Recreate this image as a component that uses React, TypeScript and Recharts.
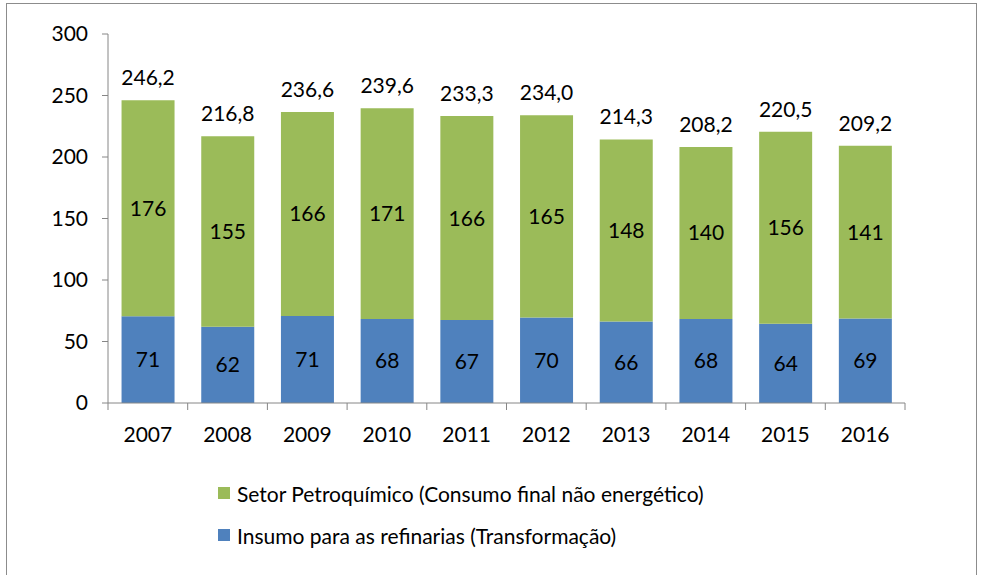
import { Bar, BarChart, LabelList, XAxis, YAxis } from "recharts";

const years = ["2007", "2008", "2009", "2010", "2011", "2012", "2013", "2014", "2015", "2016"];
const insumo = [70.6, 62.0, 70.8, 68.3, 67.4, 69.5, 66.2, 68.3, 64.4, 68.6];
const petroquimico = [175.6, 154.8, 165.8, 171.3, 165.9, 164.5, 148.1, 139.9, 156.1, 140.6];
const totals = [246.2, 216.8, 236.6, 239.6, 233.3, 234.0, 214.3, 208.2, 220.5, 209.2];
const yTicks = [0, 50, 100, 150, 200, 250, 300];

const data = years.map((year, i) => ({
  year,
  insumo: insumo[i],
  petroquimico: petroquimico[i],
  total: totals[i],
}));

const GREEN = "#9BBB59";
const BLUE = "#4F81BD";
const AXIS = "#868686";
const FONT = "Lato, 'Open Sans', sans-serif";
const FS = 21;
const BAND = 79.7;

const XTick = (props: any) => {
  const { x, y, payload, index } = props;
  return (
    <g>
      <line x1={x - BAND / 2} y1={y - 7} x2={x - BAND / 2} y2={y} stroke={AXIS} />
      {index === years.length - 1 && (
        <line x1={x + BAND / 2} y1={y - 7} x2={x + BAND / 2} y2={y} stroke={AXIS} />
      )}
      <text x={x} y={y + 32} textAnchor="middle" fill="#000" fontSize={FS} fontFamily={FONT}>
        {payload.value}
      </text>
    </g>
  );
};

const round = (v: any) => Math.round(Number(v));
const comma = (v: any) => Number(v).toFixed(1).replace(".", ",");
const labelStyle = { fill: "#000", fontSize: FS, fontFamily: FONT };

export default function App() {
  return (
    <div
      style={{
        position: "absolute",
        left: 6,
        top: 3,
        width: 971,
        height: 580,
        border: "1px solid #8c8c8c",
        boxSizing: "border-box",
        background: "#fff",
        fontFamily: FONT,
      }}
    >
      <BarChart
        width={969}
        height={470}
        data={data}
        margin={{ top: 30, right: 71, left: 41, bottom: 31 }}
        barCategoryGap="17%"
        style={{ fontFamily: FONT }}
      >
        <XAxis
          dataKey="year"
          height={40}
          stroke={AXIS}
          tickLine={false}
          tickSize={7}
          tickMargin={0}
          tick={<XTick />}
          interval={0}
        />
        <YAxis
          width={60}
          domain={[0, 300]}
          ticks={yTicks}
          stroke={AXIS}
          tickSize={6}
          tickMargin={14}
          tick={{ fill: "#000", fontSize: FS, fontFamily: FONT }}
        />
        <Bar dataKey="insumo" stackId="a" fill={BLUE} isAnimationActive={false}>
          <LabelList dataKey="insumo" position="center" formatter={round} style={labelStyle} />
        </Bar>
        <Bar dataKey="petroquimico" stackId="a" fill={GREEN} isAnimationActive={false}>
          <LabelList dataKey="petroquimico" position="center" formatter={round} style={labelStyle} />
          <LabelList dataKey="total" position="top" offset={15} formatter={comma} style={labelStyle} />
        </Bar>
      </BarChart>
      <div style={{ position: "absolute", left: 211, top: 468, fontSize: FS, color: "#000" }}>
        {[
          { color: GREEN, text: "Setor Petroquímico (Consumo final não energético)" },
          { color: BLUE, text: "Insumo para as refinarias (Transformação)" },
        ].map((item) => (
          <div key={item.text} style={{ display: "flex", alignItems: "center", height: 42 }}>
            <span style={{ width: 12, height: 12, background: item.color, marginRight: 7, display: "inline-block" }} />
            <span>{item.text}</span>
          </div>
        ))}
      </div>
    </div>
  );
}
